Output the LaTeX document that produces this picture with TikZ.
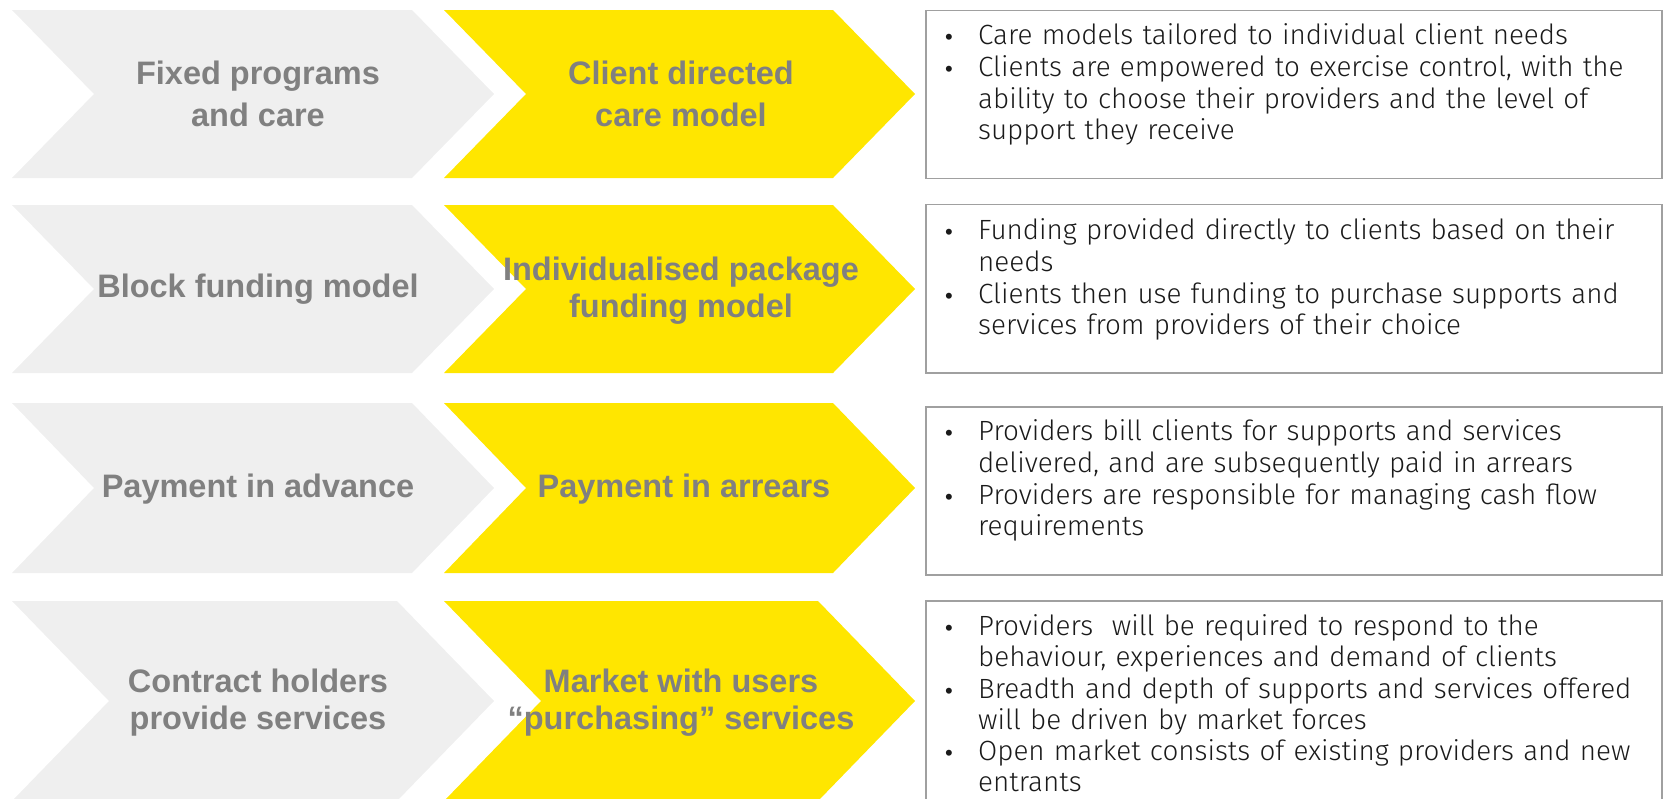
\documentclass[tikz,border=0pt]{standalone}
\usepackage{fontspec}
\setmainfont{Liberation Sans}
\newfontfamily\boxfont{Fira Sans Light}
\definecolor{eygrey}{HTML}{EFEFEF}
\definecolor{eyyellow}{HTML}{FFE600}
\definecolor{labelgrey}{HTML}{808080}
\definecolor{boxline}{HTML}{A0A0A0}
\definecolor{bodyink}{HTML}{1A1A1A}
% #1 fill, #2 left x, #3 tip x, #4 top y, #5 bottom y, #6 slant
\newcommand{\chevron}[6]{%
  \fill[#1] (#2,#4) -- ({#3-#6},#4) -- (#3,{(#4+#5)/2}) -- ({#3-#6},#5)
    -- (#2,#5) -- ({#2+#6},{(#4+#5)/2}) -- cycle;}
\newcommand{\bitem}[1]{\hangindent=33pt\hangafter=1\noindent\makebox[33pt][l]{\rmfamily\fontsize{22}{0}\selectfont\textbullet}#1\par}
\tikzset{
  chevlabel/.style={text=labelgrey, font=\bfseries\fontsize{32.5}{37}\selectfont, align=center, inner sep=0pt},
  infobox/.style={draw=boxline, line width=1.4pt},
  bodytext/.style={anchor=north west, text width=710pt, inner sep=0pt,
    font=\boxfont\fontsize{27.8}{31.7}\selectfont, text=bodyink, align=left},
}
\begin{document}
\begin{tikzpicture}[x=1pt,y=-1pt]
\useasboundingbox (0,0) rectangle (1664,798);
\clip (0,0) rectangle (1664,798);
% chevrons
\chevron{eygrey}{12}{494}{10}{178}{82}
\chevron{eyyellow}{444}{915}{10}{178}{82}
\chevron{eygrey}{12}{494}{205}{373}{82}
\chevron{eyyellow}{444}{915}{205}{373}{82}
\chevron{eygrey}{12}{494}{403}{573}{82}
\chevron{eyyellow}{444}{915}{403}{573}{82}
\chevron{eygrey}{12}{494}{601}{801}{97}
\chevron{eyyellow}{444}{915}{601}{801}{97}
% labels
\node[chevlabel, font=\bfseries\fontsize{32.5}{42}\selectfont] (l1) at (258,94) {Fixed programs\\and care};
\node[chevlabel, font=\bfseries\fontsize{32.5}{42}\selectfont] (r1) at (681,94) {Client directed\\care model};
\node[chevlabel] (l2) at (258,289) {Block funding model};
\node[chevlabel] (r2) at (681,291) {Individualised package\\funding model};
\node[chevlabel] (l3) at (258,489) {Payment in advance};
\node[chevlabel] (r3) at (684,489) {Payment in arrears};
\node[chevlabel] (l4) at (258,703) {Contract holders\\provide services};
\node[chevlabel] (r4) at (681,703) {Market with users\\“purchasing” services};
% boxes
\draw[infobox] (926,10.5) rectangle (1662,178.5);
\draw[infobox] (926,204.5) rectangle (1662,373);
\draw[infobox] (926,407) rectangle (1662,575);
\draw[infobox] (926,601) rectangle (1662,840);
% texts
\node[bodytext] (t1) at (945,23.5) {%
\bitem{Care models tailored to individual client needs}
\bitem{Clients are empowered to exercise control, with the\newline ability to choose their providers and the level of\newline support they receive}};
\node[bodytext] (t2) at (945,218.5) {%
\bitem{Funding provided directly to clients based on their\newline needs}
\bitem{Clients then use funding to purchase supports and\newline services from providers of their choice}};
\node[bodytext] (t3) at (945,419.5) {%
\bitem{Providers bill clients for supports and services\newline delivered, and are subsequently paid in arrears}
\bitem{Providers are responsible for managing cash flow\newline requirements}};
\node[bodytext, font=\boxfont\fontsize{27.8}{31.2}\selectfont] (t4) at (945,614.5) {%
\bitem{Providers\ \ will be required to respond to the\newline behaviour, experiences and demand of clients}
\bitem{Breadth and depth of supports and services offered\newline will be driven by market forces}
\bitem{Open market consists of existing providers and new\newline entrants}};
\end{tikzpicture}
\end{document}
